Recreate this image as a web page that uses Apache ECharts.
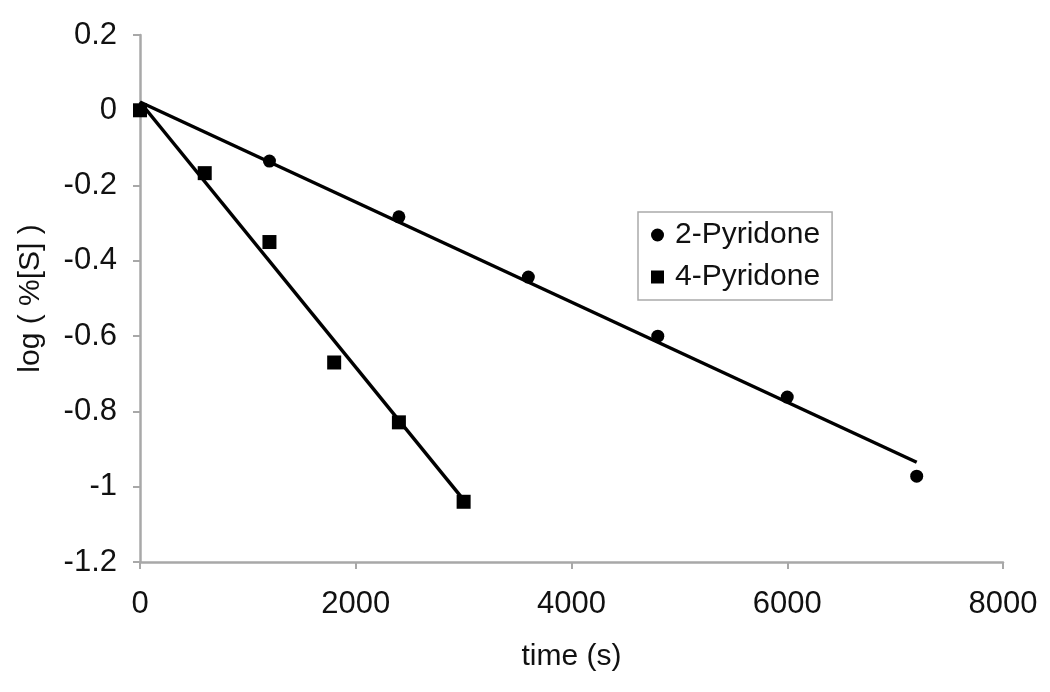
<!DOCTYPE html>
<html><head><meta charset="utf-8">
<script src="https://cdn.jsdelivr.net/npm/echarts@6/dist/echarts.min.js"></script>
<style>html,body{margin:0;padding:0;background:#fff}#c{width:1050px;height:692px}</style>
</head><body><div id="c"></div>
<script>
const timeA = [0, 1200, 2400, 3600, 4800, 6000, 7200];
const pyr2 = [0, -0.135, -0.283, -0.443, -0.60, -0.762, -0.972];
const timeB = [0, 600, 1200, 1800, 2400, 3000];
const pyr4 = [0, -0.167, -0.35, -0.67, -0.829, -1.04];
const fit2 = [[0, 0.022], [7200, -0.935]];
const fit4 = [[0, 0.022], [3000, -1.035]];
const xTicks = [0, 2000, 4000, 6000, 8000];
const yTicks = [-1.2, -1, -0.8, -0.6, -0.4, -0.2, 0, 0.2];

const FONT = 'Liberation Sans, Arial, sans-serif';
const chart = echarts.init(document.getElementById('c'));
chart.setOption({
  animation: false,
  backgroundColor: '#fff',
  grid: { left: 140, right: 47, top: 35, bottom: 130, containLabel: false },
  legend: {
    data: [{ name: '2-Pyridone', icon: 'circle' }, { name: '4-Pyridone', icon: 'rect' }],
    orient: 'vertical', left: 638, top: 212,
    itemWidth: 13, itemHeight: 13, itemGap: 12,
    padding: [8, 12, 8, 13],
    borderColor: '#aaa', borderWidth: 1.5, borderRadius: 0,
    itemStyle: { opacity: 1 },
    textStyle: { fontFamily: FONT, fontSize: 30, color: '#111', padding: [0, 0, 0, 6] }
  },
  xAxis: {
    type: 'value', min: xTicks[0], max: xTicks[xTicks.length - 1], interval: 2000,
    name: 'time (s)', nameLocation: 'middle', nameGap: 80,
    nameTextStyle: { fontFamily: FONT, fontSize: 30, color: '#111' },
    axisLine: { show: true, onZero: false, lineStyle: { color: '#a8a8a8', width: 2.5 } },
    axisTick: { show: true, length: 7, lineStyle: { color: '#a8a8a8', width: 2 } },
    axisLabel: { fontFamily: FONT, fontSize: 31, color: '#111', margin: 27,
      formatter: v => String(v) },
    splitLine: { show: false }
  },
  yAxis: {
    type: 'value', min: yTicks[0], max: yTicks[yTicks.length - 1], interval: 0.2,
    name: 'log ( %[S] )', nameLocation: 'middle', nameGap: 94, nameRotate: 90,
    nameTextStyle: { fontFamily: FONT, fontSize: 30, color: '#111' },
    axisLine: { show: true, onZero: false, lineStyle: { color: '#a8a8a8', width: 2.5 } },
    axisTick: { show: true, length: 7, lineStyle: { color: '#a8a8a8', width: 2 } },
    axisLabel: { fontFamily: FONT, fontSize: 31, color: '#111', margin: 23,
      formatter: v => String(Math.round(v * 10) / 10) },
    splitLine: { show: false }
  },
  series: [
    { name: '2-Pyridone', type: 'scatter', symbol: 'circle', symbolSize: 13,
      itemStyle: { color: '#000', opacity: 1 }, data: timeA.map((t, i) => [t, pyr2[i]]), z: 3 },
    { name: '4-Pyridone', type: 'scatter', symbol: 'rect', symbolSize: 14,
      itemStyle: { color: '#000', opacity: 1 }, data: timeB.map((t, i) => [t, pyr4[i]]), z: 3 },
    { name: 'fit2', type: 'line', data: fit2, symbol: 'none', silent: true,
      lineStyle: { color: '#000', width: 3.5 }, z: 2 },
    { name: 'fit4', type: 'line', data: fit4, symbol: 'none', silent: true,
      lineStyle: { color: '#000', width: 3.5 }, z: 2 }
  ]
});
</script></body></html>
